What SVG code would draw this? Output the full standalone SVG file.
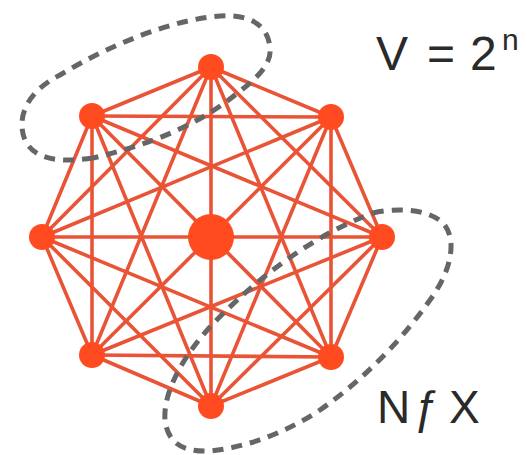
<svg xmlns="http://www.w3.org/2000/svg" width="527" height="455" viewBox="0 0 527 455">
<style>
.e{stroke:#EA5436;stroke-width:3.6;stroke-linecap:round}
.n{fill:#FF4B1F}
.loop{fill:none;stroke:#666;stroke-width:5;stroke-dasharray:11 8}
.t{font-family:"Liberation Sans",Arial,sans-serif;fill:#2a2a2a}
</style>
<rect width="527" height="455" fill="#fff"/>
<g id="connectors">
<line class="e" x1="211" y1="67" x2="92" y2="116"/>
<line class="e" x1="211" y1="67" x2="331" y2="117"/>
<line class="e" x1="211" y1="67" x2="42" y2="237"/>
<line class="e" x1="211" y1="67" x2="382" y2="237"/>
<line class="e" x1="211" y1="67" x2="92" y2="355"/>
<line class="e" x1="211" y1="67" x2="331" y2="357"/>
<line class="e" x1="211" y1="67" x2="211" y2="406"/>
<line class="e" x1="92" y1="116" x2="331" y2="117"/>
<line class="e" x1="92" y1="116" x2="42" y2="237"/>
<line class="e" x1="92" y1="116" x2="382" y2="237"/>
<line class="e" x1="92" y1="116" x2="92" y2="355"/>
<line class="e" x1="92" y1="116" x2="331" y2="357"/>
<line class="e" x1="92" y1="116" x2="211" y2="406"/>
<line class="e" x1="331" y1="117" x2="42" y2="237"/>
<line class="e" x1="331" y1="117" x2="382" y2="237"/>
<line class="e" x1="331" y1="117" x2="92" y2="355"/>
<line class="e" x1="331" y1="117" x2="331" y2="357"/>
<line class="e" x1="331" y1="117" x2="211" y2="406"/>
<line class="e" x1="42" y1="237" x2="382" y2="237"/>
<line class="e" x1="42" y1="237" x2="92" y2="355"/>
<line class="e" x1="42" y1="237" x2="331" y2="357"/>
<line class="e" x1="42" y1="237" x2="211" y2="406"/>
<line class="e" x1="382" y1="237" x2="92" y2="355"/>
<line class="e" x1="382" y1="237" x2="331" y2="357"/>
<line class="e" x1="382" y1="237" x2="211" y2="406"/>
<line class="e" x1="92" y1="355" x2="331" y2="357"/>
<line class="e" x1="92" y1="355" x2="211" y2="406"/>
<line class="e" x1="331" y1="357" x2="211" y2="406"/>
<path class="loop" d="M93,158 C65,162 35,162 25,140 C15,115 30,90 60,75 C110,45 170,20 220,16 C250,14 268,25 270,48 C272,65 255,80 235,95 C210,115 170,140 93,158 Z"/>
<path class="loop" d="M373,213 C395,208 425,208 442,222 C458,238 452,270 430,300 C405,335 370,375 320,410 C290,430 250,447 210,451 C185,452 168,445 165,420 C163,395 180,360 210,327 C240,295 300,240 373,213 Z"/>
</g>
<g id="node-top"><circle class="n" cx="211" cy="67" r="13"/></g>
<g id="node-topleft"><circle class="n" cx="92" cy="116" r="13"/></g>
<g id="node-topright"><circle class="n" cx="331" cy="117" r="13"/></g>
<g id="node-left"><circle class="n" cx="42" cy="237" r="13"/></g>
<g id="node-center"><circle class="n" cx="211" cy="237" r="23"/></g>
<g id="node-right"><circle class="n" cx="382" cy="237" r="13"/></g>
<g id="node-bottomleft"><circle class="n" cx="92" cy="355" r="13"/></g>
<g id="node-bottomright"><circle class="n" cx="331" cy="357" r="13"/></g>
<g id="node-bottom"><circle class="n" cx="211" cy="406" r="13"/></g>
<g id="label-v">
<text class="t" x="376" y="70" font-size="48">V</text>
<text class="t" x="427" y="70" font-size="48">=</text>
<text class="t" x="470" y="70" font-size="48">2</text>
<text class="t" x="502" y="50" font-size="30">n</text>
</g>
<g id="label-nfx">
<text class="t" x="377" y="423" font-size="46">N</text>
<text class="t" x="414" y="423" font-size="46" font-family="DejaVu Sans,sans-serif">ƒ</text>
<text class="t" x="449" y="423" font-size="46">X</text>
</g>
</svg>
